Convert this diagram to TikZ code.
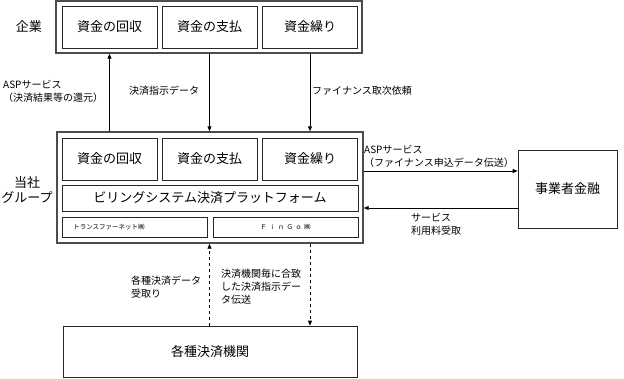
\documentclass[tikz,border=0pt]{standalone}
\usepackage{fontspec}
\setmainfont{Noto Sans CJK JP}
\usetikzlibrary{arrows.meta}

\begin{document}
\begin{tikzpicture}[x=1pt,y=-1pt,
  outer/.style={draw=black!70,line width=1.4pt,inner sep=0pt},
  box/.style={draw=black!85,line width=0.7pt,inner sep=0pt,minimum width=95pt,minimum height=42pt,font=\fontsize{13}{15}\selectfont},
  sbox/.style={draw=black!85,line width=0.7pt,inner sep=0pt,minimum width=145pt,minimum height=20pt},
  big/.style={font=\fontsize{13}{15}\selectfont},
  lbl/.style={font=\fontsize{10}{13}\selectfont,align=left,inner sep=0pt},
  tiny/.style={font=\fontsize{6.5}{8}\selectfont,inner sep=0pt},
  arr/.style={line width=0.8pt,-{Triangle[length=5pt,width=4pt]}}]
\useasboundingbox (0,0) rectangle (624,379);

% 企業
\node[outer,minimum width=306pt,minimum height=52pt] (corp) at (209,27) {};
\node[box] (k1) at (109.5,27) {資金の回収};
\node[box] (k2) at (209.5,27) {資金の支払};
\node[box] (k3) at (310,27) {資金繰り};
\node[big] (corplbl) at (29,27) {企業};

% 当社グループ
\node[outer,minimum width=306pt,minimum height=111pt] (grp) at (210,187.5) {};
\node[box] (g1) at (109.5,159) {資金の回収};
\node[box] (g2) at (209.5,159) {資金の支払};
\node[box] (g3) at (310,159) {資金繰り};
\node[draw=black!85,line width=0.7pt,minimum width=296pt,minimum height=26pt,big] (bill) at (210,198) {ビリングシステム決済プラットフォーム};
\node[sbox] (tf) at (134.5,227) {};
\node[tiny] (tftxt) at (109,227) {トランスファーネット㈱};
\node[sbox,tiny] (fg) at (285.5,227) {\addfontfeature{LetterSpace=35}ＦｉｎＧｏ㈱};
\node[big,align=center] (grplbl) at (27,190) {当社\\グループ};

% 事業者金融, 各種決済機関
\node[draw=black!85,line width=0.7pt,minimum width=99pt,minimum height=78pt,big] (fin) at (567.5,189) {事業者金融};
\node[draw=black!85,line width=0.7pt,minimum width=294pt,minimum height=51pt,big] (inst) at (210,351.5) {各種決済機関};

% arrows
\draw[arr] (grp.north -| k1.center) -- (corp.south -| k1.center);
\draw[arr] (corp.south -| k2.center) -- (grp.north -| k2.center);
\draw[arr] (corp.south -| k3.center) -- (grp.north -| k3.center);
\coordinate (fa) at ([yshift=18pt]fin.west);
\coordinate (fb) at ([yshift=-19pt]fin.west);
\draw[arr] (grp.east |- fa) -- (fa);
\draw[arr] (fb) -- (grp.east |- fb);
\draw[arr,dashed] (inst.north -| g2.center) -- (grp.south -| g2.center);
\draw[arr,dashed] (grp.south -| g3.center) -- (inst.north -| g3.center);

% labels
\node[lbl,anchor=west] (l1) at (3,91) {ASPサービス\\（決済結果等の還元）};
\node[lbl,anchor=west] (l2) at (129,91) {決済指示データ};
\node[lbl,anchor=west] (l3) at (312,91) {ファイナンス取次依頼};
\node[lbl,anchor=west] (l4) at (364,156) {ASPサービス\\（ファイナンス申込データ伝送）};
\node[lbl,anchor=west] (l5) at (411,224) {サービス\\利用料受取};
\node[lbl,anchor=west] (l6) at (131,287) {各種決済データ\\受取り};
\node[lbl,anchor=west] (l7) at (221,287) {決済機関毎に合致\\した決済指示デー\\タ伝送};
\end{tikzpicture}
\end{document}
